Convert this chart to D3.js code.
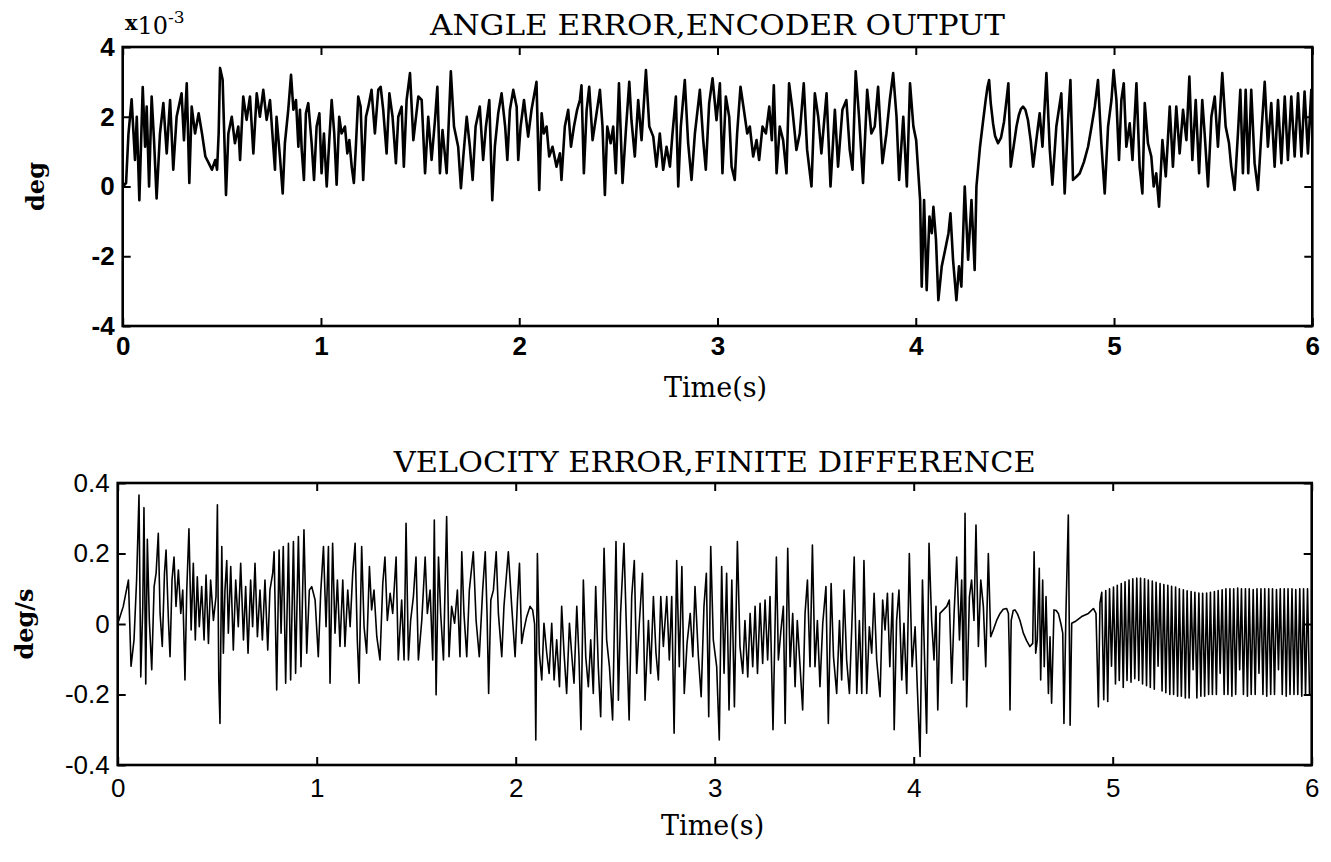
<!DOCTYPE html>
<html><head><meta charset="utf-8">
<script src="https://cdn.jsdelivr.net/npm/d3@7"></script>
<style>body{margin:0;background:#fff}svg{display:block}</style>
</head><body>
<svg id="c" width="1331" height="862"></svg>
<script>
const timeTicks = [0,1,2,3,4,5,6];
const angleTicks = [-4,-2,0,2,4];
const velocityTicks = [-0.4,-0.2,0,0.2,0.4];
const angleTitle = "ANGLE ERROR,ENCODER OUTPUT";
const velocityTitle = "VELOCITY ERROR,FINITE DIFFERENCE";
const xLabel = "Time(s)";
const angleUnit = "deg";
const velocityUnit = "deg/s";

// angle error, units of 1e-3 deg : [time s, value]
const angleSeries = [
[0,0],[0.017,0.1],[0.029,1.5],[0.045,2.5],[0.062,0.76],[0.071,2.0],[0.084,-0.39],[0.101,2.85],[0.113,1.14],[0.121,2.29],[0.133,0.0],[0.146,2.58],[0.158,1.33],[0.171,-0.34],[0.188,1.52],[0.205,2.39],[0.222,0.95],[0.239,2.48],[0.255,0.48],[0.272,2.0],[0.297,2.67],[0.309,1.33],[0.323,2.96],[0.336,0.1],[0.348,2.29],[0.365,1.52],[0.383,2.1],[0.400,1.52],[0.417,0.86],[0.434,0.67],[0.450,0.48],[0.467,0.76],[0.476,0.48],[0.484,1.52],[0.491,3.4],[0.504,3.06],[0.511,1.72],[0.521,-0.24],[0.533,1.52],[0.550,2.0],[0.566,1.24],[0.583,1.72],[0.592,0.76],[0.608,2.58],[0.625,1.91],[0.642,2.58],[0.659,0.95],[0.676,2.67],[0.692,2.0],[0.709,2.77],[0.726,1.91],[0.743,2.48],[0.756,1.43],[0.768,0.48],[0.776,2.0],[0.793,0.86],[0.807,-0.2],[0.818,1.24],[0.835,2.2],[0.849,3.2],[0.861,2.2],[0.874,2.48],[0.886,1.14],[0.894,2.2],[0.903,1.05],[0.914,0.19],[0.924,2.1],[0.936,2.39],[0.953,1.24],[0.965,0.19],[0.978,1.72],[0.992,2.1],[1.003,0.38],[1.015,1.52],[1.029,0.0],[1.042,1.33],[1.054,2.48],[1.067,1.52],[1.079,0.05],[1.092,2.0],[1.104,1.52],[1.121,1.72],[1.133,0.95],[1.143,1.33],[1.155,0.57],[1.166,0.1],[1.176,1.14],[1.188,2.58],[1.200,2.29],[1.213,0.19],[1.227,2.0],[1.239,2.29],[1.255,2.77],[1.272,1.52],[1.289,2.77],[1.301,2.86],[1.314,2.2],[1.331,0.95],[1.345,2.67],[1.361,2.0],[1.378,0.67],[1.390,2.0],[1.407,2.29],[1.418,0.57],[1.432,2.48],
[1.449,3.25],[1.466,1.33],[1.491,2.58],[1.508,2.48],[1.525,0.38],[1.541,2.0],[1.558,0.76],[1.575,1.9],[1.587,2.86],[1.600,0.38],[1.613,1.62],[1.634,0.38],[1.655,3.3],[1.671,1.72],[1.692,1.14],[1.706,-0.05],[1.718,0.86],[1.735,2.0],[1.751,1.14],[1.765,0.19],[1.780,1.72],[1.801,2.29],[1.818,0.76],[1.832,1.72],[1.849,2.48],[1.864,-0.39],[1.877,1.14],[1.894,2.1],[1.911,2.67],[1.929,1.72],[1.940,0.76],[1.953,2.2],[1.970,2.77],[1.987,2.29],[1.995,0.76],[2.007,1.72],[2.024,2.48],[2.045,1.43],[2.062,2.2],[2.087,3.0],[2.101,-0.1],[2.113,2.1],[2.124,1.52],[2.138,1.72],[2.151,0.86],[2.168,1.14],[2.188,0.57],[2.205,0.95],[2.213,0.19],[2.230,1.72],[2.247,2.2],[2.261,1.14],[2.276,1.72],[2.292,2.2],[2.306,2.48],[2.314,2.9],[2.326,0.38],[2.340,2.2],[2.353,2.86],[2.370,1.33],[2.390,2.1],[2.407,2.77],[2.420,1.72],[2.432,-0.24],[2.444,1.72],[2.461,1.24],[2.474,1.72],[2.487,0.38],[2.503,2.96],[2.521,0.1],[2.538,1.62],[2.555,3.0],[2.566,1.9],[2.583,0.86],[2.600,2.48],[2.617,1.33],[2.639,3.34],[2.656,1.72],[2.676,1.43],[2.692,0.57],[2.709,1.52],[2.726,0.48],[2.743,1.14],[2.760,0.57],[2.773,1.52],[2.790,2.58],[2.802,0.0],[2.815,1.72],[2.835,3.05],[2.852,1.24],[2.869,0.19],[2.886,1.52],[2.911,2.77],[2.928,1.33],[2.941,0.48],[2.958,2.39],[2.975,3.1],[2.995,1.9],
[3.012,2.96],[3.025,0.38],[3.042,2.58],[3.059,2.0],[3.071,0.57],[3.087,0.19],[3.099,1.52],[3.116,2.86],[3.133,2.2],[3.150,1.52],[3.163,1.72],[3.180,0.86],[3.197,1.33],[3.210,0.76],[3.227,1.72],[3.244,1.52],[3.261,2.29],[3.274,1.33],[3.284,2.9],[3.298,0.38],[3.314,1.72],[3.331,1.33],[3.348,0.38],[3.361,2.96],[3.378,2.2],[3.398,1.05],[3.415,1.52],[3.435,2.96],[3.452,1.05],[3.474,0.0],[3.491,2.67],[3.508,2.0],[3.524,0.95],[3.550,2.67],[3.570,0.0],[3.592,2.2],[3.608,0.57],[3.630,2.2],[3.650,2.48],[3.667,1.05],[3.681,0.48],[3.697,3.3],[3.714,2.0],[3.734,0.1],[3.755,2.77],[3.776,1.52],[3.793,1.72],[3.810,2.86],[3.832,0.67],[3.852,1.52],[3.869,2.48],[3.886,3.25],[3.903,2.0],[3.916,0.19],[3.937,2.0],[3.955,0.0],[3.971,2.96],[3.988,1.72],[4.002,1.33],[4.013,0.38],[4.022,-0.39],[4.030,-2.87],[4.042,-0.39],[4.055,-2.97],[4.069,-0.86],[4.081,-1.34],[4.089,-0.58],[4.102,-1.53],[4.114,-3.26],[4.131,-2.29],[4.148,-1.82],[4.165,-1.34],[4.175,-0.77],[4.188,-2.1],[4.205,-3.26],[4.218,-2.29],[4.230,-2.87],[4.247,0.0],[4.264,-2.1],[4.281,-0.39],[4.297,-2.39],[4.306,0.0],[4.324,1.14],[4.340,1.9],[4.353,2.5],[4.362,2.86],[4.370,3.05],[4.378,2.4],[4.390,1.8],[4.400,1.45],[4.415,1.24],[4.430,1.4],[4.445,1.85],[4.458,2.5],[4.467,2.96],[4.479,0.57],
[4.508,1.72],[4.520,2.05],[4.530,2.22],[4.541,2.29],[4.553,2.2],[4.566,1.9],[4.580,1.3],[4.592,0.57],[4.608,1.33],[4.625,2.1],[4.639,1.14],[4.659,3.25],[4.676,1.05],[4.689,0.05],[4.709,1.72],[4.734,2.67],[4.751,-0.2],[4.768,1.9],[4.780,3.05],[4.793,0.19],[4.810,0.28],[4.827,0.38],[4.848,0.7],[4.869,1.14],[4.886,1.7],[4.903,2.29],[4.919,3.05],[4.936,1.24],[4.953,-0.2],[4.970,1.72],[4.987,2.48],[4.998,3.34],[5.012,2.48],[5.025,0.76],[5.037,2.48],[5.049,2.96],[5.062,1.14],[5.079,1.81],[5.093,0.76],[5.113,2.96],[5.129,0.57],[5.143,-0.2],[5.155,2.39],[5.171,1.24],[5.188,0.86],[5.200,0.0],[5.213,0.38],[5.227,-0.58],[5.244,1.33],[5.261,0.29],[5.281,2.29],[5.297,0.57],[5.314,2.29],[5.331,0.95],[5.348,2.2],[5.365,1.33],[5.380,3.15],[5.395,0.76],[5.412,2.48],[5.429,0.38],[5.445,2.48],[5.457,1.52],[5.474,0.0],[5.491,2.0],[5.508,2.58],[5.524,1.14],[5.546,3.25],[5.563,1.72],[5.580,1.24],[5.591,0.57],[5.608,-0.1],[5.625,1.52],[5.637,2.77],[5.650,0.38],[5.664,2.77],[5.677,0.38],[5.692,2.77],[5.709,0.67],[5.726,-0.1],[5.743,1.52],[5.760,3.0],[5.776,1.14],[5.793,2.39],[5.810,0.57],[5.827,2.48],[5.844,0.67],[5.861,2.58],[5.877,0.76],[5.894,2.58],[5.911,0.86],[5.928,2.67],[5.945,0.86],[5.961,2.72],[5.978,0.95],[5.995,2.77],[6.0,1.6]
];

// velocity error, deg/s : [time s, value]
const velocitySeries = [
[0,0],[0.028,0.05],[0.054,0.125],[0.067,-0.12],[0.082,-0.045],[0.095,0.125],[0.107,0.366],[0.116,-0.15],[0.126,0.05],[0.132,0.33],[0.141,-0.17],[0.149,0.24],[0.159,0.01],[0.171,-0.13],[0.183,0.106],[0.193,0.144],[0.204,0.257],[0.213,0.03],[0.224,-0.064],[0.235,0.144],[0.243,0.21],[0.255,0.01],[0.263,-0.093],[0.273,0.125],[0.283,0.19],[0.293,0.05],[0.305,0.153],[0.317,0.03],[0.327,0.096],[0.338,-0.159],[0.347,0.096],[0.358,0.27],[0.369,-0.017],[0.380,0.172],[0.390,-0.045],[0.400,0.134],[0.410,-0.008],[0.422,0.106],[0.434,-0.045],[0.444,0.139],[0.456,-0.055],[0.467,0.125],[0.481,0.01],[0.494,0.078],[0.501,0.338],[0.508,-0.159],[0.514,-0.282],[0.523,0.22],[0.531,-0.083],[0.539,0.096],[0.548,0.18],[0.556,-0.026],[0.568,0.163],[0.581,-0.074],[0.593,0.125],[0.606,-0.008],[0.618,0.172],[0.632,-0.045],[0.643,0.106],[0.655,-0.083],[0.668,0.125],[0.678,-0.008],[0.690,0.172],[0.702,-0.036],[0.715,0.096],[0.727,-0.045],[0.740,0.125],[0.754,-0.074],[0.765,0.096],[0.779,0.144],[0.786,0.205],[0.799,-0.187],[0.811,0.21],[0.821,-0.026],[0.832,0.22],[0.844,-0.168],[0.858,0.229],[0.869,-0.159],[0.883,0.234],[0.894,-0.14],[0.908,0.248],[0.921,-0.121],[0.936,0.267],[0.950,-0.083],[0.963,0.096],[0.975,0.106],[0.992,0.068],[1.008,-0.093],[1.020,0.087],[1.034,0.22],[1.047,-0.008],[1.059,0.22],[1.067,-0.168],[1.080,0.229],[1.092,-0.026],[1.104,0.125],[1.117,-0.064],[1.131,0.125],[1.142,-0.064],[1.156,0.096],[1.168,-0.008],[1.181,0.144],[1.193,0.229],[1.204,-0.045],[1.213,-0.168],[1.226,0.22],[1.238,-0.008],[1.251,-0.083],[1.265,0.163],[1.276,0.04],[1.288,0.096],[1.302,-0.036],[1.318,-0.102],[1.332,0.115],[1.343,0.19],[1.355,0.01],[1.369,0.087],[1.382,0.03],[1.399,0.19],[1.410,-0.102],[1.427,0.068],[1.439,-0.102],[1.449,0.286],[1.461,-0.102],[1.472,0.01],[1.486,0.078],[1.499,0.19],[1.511,-0.102],
[1.528,0.01],[1.545,0.19],[1.556,0.03],[1.570,0.096],[1.583,-0.102],[1.591,0.295],[1.600,-0.201],[1.612,0.19],[1.623,0.03],[1.637,-0.102],[1.653,0.305],[1.665,-0.093],[1.678,0.05],[1.693,0.002],[1.707,0.096],[1.720,-0.093],[1.729,0.205],[1.740,0.03],[1.754,-0.093],[1.767,0.096],[1.787,0.205],[1.801,0.01],[1.817,-0.093],[1.834,0.096],[1.847,0.205],[1.856,0.03],[1.864,-0.197],[1.875,0.068],[1.888,0.096],[1.902,0.205],[1.913,0.03],[1.930,-0.093],[1.941,0.05],[1.963,0.205],[1.980,0.05],[1.997,-0.093],[2.009,0.068],[2.019,0.172],[2.030,-0.055],[2.040,-0.02],[2.055,0.02],[2.072,0.05],[2.085,0.04],[2.095,0.0],[2.101,-0.329],[2.109,0.2],[2.119,-0.083],[2.131,-0.159],[2.142,0.002],[2.156,-0.083],[2.168,-0.14],[2.181,0.002],[2.193,-0.159],[2.206,-0.045],[2.220,-0.178],[2.231,0.05],[2.243,-0.083],[2.256,-0.197],[2.270,0.002],[2.281,-0.083],[2.293,-0.168],[2.307,0.05],[2.318,-0.093],[2.328,-0.3],[2.340,0.125],[2.352,-0.093],[2.365,-0.178],[2.377,-0.045],[2.390,-0.197],[2.402,0.106],[2.415,-0.121],[2.427,-0.263],[2.444,0.215],[2.457,-0.045],[2.471,-0.121],[2.487,-0.272],[2.504,0.234],[2.516,-0.216],[2.527,0.03],[2.544,0.229],[2.558,-0.045],[2.570,-0.272],[2.583,0.078],[2.596,0.18],[2.608,-0.14],[2.621,0.002],[2.637,0.144],[2.650,-0.216],[2.667,0.01],[2.678,-0.14],[2.692,0.078],[2.705,-0.083],[2.717,-0.159],[2.729,0.078],[2.742,-0.064],[2.759,0.078],[2.772,-0.102],[2.784,0.078],[2.796,-0.31],[2.809,0.18],[2.822,-0.121],[2.835,0.163],[2.847,-0.197],[2.861,-0.055],[2.877,0.03],[2.890,-0.093],[2.901,0.106],[2.918,-0.093],[2.932,-0.206],[2.946,0.05],[2.958,0.144],[2.970,-0.263],[2.980,0.22],[2.993,-0.045],[3.010,-0.121],[3.023,-0.329],
[3.035,0.163],[3.047,-0.14],[3.060,0.144],[3.072,-0.244],[3.086,0.125],[3.099,-0.235],[3.114,0.234],[3.127,-0.064],[3.141,-0.14],[3.152,0.01],[3.166,-0.15],[3.178,0.03],[3.191,-0.121],[3.203,0.05],[3.215,-0.14],[3.228,0.059],[3.241,-0.112],[3.253,0.068],[3.266,-0.102],[3.278,0.078],[3.293,-0.3],[3.310,0.19],[3.320,-0.102],[3.333,-0.017],[3.345,0.05],[3.354,-0.282],[3.367,0.215],[3.379,-0.121],[3.392,0.03],[3.404,-0.178],[3.415,0.01],[3.429,-0.121],[3.442,-0.244],[3.454,0.03],[3.466,0.125],[3.479,-0.121],[3.491,0.224],[3.504,-0.121],[3.516,0.01],[3.529,-0.178],[3.543,0.002],[3.559,0.106],[3.571,-0.282],[3.585,0.115],[3.597,-0.093],[3.613,-0.197],[3.627,0.01],[3.638,-0.159],[3.650,0.096],[3.663,-0.102],[3.677,-0.197],[3.690,0.01],[3.701,0.19],[3.714,-0.197],[3.727,0.01],[3.739,-0.197],[3.750,0.18],[3.764,-0.197],[3.777,-0.008],[3.789,-0.083],[3.801,0.087],[3.814,-0.102],[3.831,-0.206],[3.844,0.068],[3.856,-0.017],[3.868,0.087],[3.880,-0.121],[3.894,0.087],[3.902,-0.3],[3.914,0.01],[3.926,0.096],[3.940,-0.159],[3.951,0.002],[3.965,-0.197],[3.978,0.2],[3.992,-0.121],[4.007,-0.008],[4.018,-0.178],[4.032,-0.376],[4.044,0.125],[4.057,-0.15],[4.065,-0.31],[4.077,0.229],[4.090,0.01],[4.102,-0.102],[4.112,0.05],[4.121,-0.244],[4.132,0.03],[4.149,0.04],[4.166,0.05],[4.179,0.068],[4.191,-0.168],[4.203,0.03],[4.216,0.19],[4.230,-0.045],[4.241,0.125],[4.250,-0.159],[4.258,0.314],[4.266,-0.235],[4.280,0.078],[4.291,0.125],[4.303,0.01],[4.313,0.281],[4.325,-0.064],[4.337,0.125],[4.350,0.05],[4.362,-0.121],[4.375,0.2],[4.387,-0.036],[4.400,-0.017],[4.418,0.012],[4.434,0.03],[4.450,0.042],[4.467,0.044],[4.476,0.03],[4.481,-0.1],[4.484,-0.244],[4.487,-0.1],[4.490,0.01],[4.500,0.038],[4.509,0.04],[4.522,0.028],[4.534,0.01],
[4.551,-0.026],[4.568,-0.048],[4.584,-0.064],[4.598,-0.055],[4.605,0.205],[4.613,-0.083],[4.621,-0.045],[4.631,0.158],[4.638,-0.159],[4.648,0.125],[4.656,-0.121],[4.665,0.078],[4.677,-0.197],[4.685,-0.036],[4.693,-0.225],[4.705,0.04],[4.716,0.038],[4.727,0.03],[4.740,0.0],[4.749,-0.026],[4.755,-0.282],[4.765,0.03],[4.777,0.309],[4.786,-0.287],[4.794,0.002],[4.811,0.007],[4.844,0.021],[4.878,0.03],[4.903,0.044],[4.916,0.03],[4.928,-0.235],[4.936,0.059],
[4.945,0.09],[4.955,-0.215],[4.965,0.095],[4.975,-0.22],[4.984,0.10],[4.994,-0.12],[5.004,0.105],[5.014,-0.17],[5.023,0.11],[5.033,-0.16],[5.043,0.115],[5.053,-0.18],[5.062,0.12],[5.072,-0.16],[5.082,0.125],[5.092,-0.165],[5.101,0.128],[5.111,-0.155],[5.121,0.13],[5.131,-0.16],[5.140,0.13],[5.150,-0.17],[5.160,0.128],[5.170,-0.175],[5.179,0.125],[5.189,-0.18],[5.199,0.122],[5.209,-0.185],[5.218,0.118],[5.228,-0.12],[5.238,0.115],[5.248,-0.19],[5.257,0.112],[5.267,-0.195],[5.277,0.11],[5.287,-0.2],[5.296,0.107],[5.306,-0.2],[5.316,0.105],[5.326,-0.205],[5.335,0.10],[5.345,-0.205],[5.355,0.097],[5.365,-0.21],[5.374,0.094],[5.384,-0.21],[5.394,0.092],[5.404,-0.13],[5.413,0.09],[5.423,-0.21],[5.433,0.088],[5.443,-0.205],[5.452,0.087],[5.462,-0.205],[5.472,0.088],[5.482,-0.2],[5.491,0.09],[5.501,-0.2],[5.511,0.092],[5.521,-0.2],[5.530,0.095],[5.540,-0.14],[5.550,0.097],[5.560,-0.2],[5.569,0.10],[5.579,-0.2],[5.589,0.10],[5.599,-0.205],[5.608,0.10],[5.618,-0.2],[5.628,0.102],[5.638,-0.13],[5.647,0.10],[5.657,-0.2],[5.667,0.10],[5.677,-0.205],[5.686,0.10],[5.696,-0.2],[5.706,0.098],[5.716,-0.2],[5.725,0.10],[5.735,-0.14],[5.745,0.10],[5.755,-0.2],[5.764,0.10],[5.774,-0.205],[5.784,0.10],[5.794,-0.2],[5.803,0.10],[5.813,-0.2],[5.823,0.098],[5.833,-0.13],[5.842,0.10],[5.852,-0.2],[5.862,0.10],[5.872,-0.205],[5.881,0.10],[5.891,-0.2],[5.901,0.10],[5.911,-0.2],[5.920,0.098],[5.930,-0.2],[5.940,0.10],[5.950,-0.205],[5.959,0.10],[5.969,-0.2],[5.979,0.10],[5.989,-0.2],[6.0,-0.2]
];

const svg = d3.select("#c");
const serif = "'DejaVu Serif', 'Liberation Serif', serif";
const sans = "'Liberation Sans', Arial, sans-serif";

const panels = [
  {id:"a", data:angleSeries, yTicks:angleTicks, yDomain:[-4,4], xr:[122.7,1312.3], yr:[326,47],
   title:angleTitle, titleY:35, titleW:575, unit:angleUnit, unitX:35, xlabY:397, xPad:11,
   weight:"bold", lw:2.6},
  {id:"b", data:velocitySeries, yTicks:velocityTicks, yDomain:[-0.4,0.4], xr:[117.7,1311.7], yr:[765,483],
   title:velocityTitle, titleY:472, titleW:642, unit:velocityUnit, unitX:24, xlabY:835, xPad:14,
   weight:"normal", lw:1.6}
];

panels.forEach(p => {
  const x = d3.scaleLinear().domain([0,6]).range(p.xr);
  const y = d3.scaleLinear().domain(p.yDomain).range(p.yr);
  const g = svg.append("g");
  const clipId = "clip-" + p.id;
  svg.append("clipPath").attr("id", clipId).append("rect")
    .attr("x", p.xr[0]).attr("y", p.yr[1]).attr("width", p.xr[1]-p.xr[0]).attr("height", p.yr[0]-p.yr[1]);

  g.append("path").datum(p.data)
    .attr("clip-path", `url(#${clipId})`)
    .attr("fill","none").attr("stroke","#000").attr("stroke-width",p.lw)
    .attr("stroke-linejoin","round")
    .attr("d", d3.line().x(d=>x(d[0])).y(d=>y(d[1])));

  const fmt = d => String(d);
  const ax = g.append("g").attr("transform",`translate(0,${p.yr[0]})`)
    .call(d3.axisBottom(x).tickValues(timeTicks).tickSizeInner(-8).tickSizeOuter(0).tickPadding(p.xPad).tickFormat(fmt));
  const at = g.append("g").attr("transform",`translate(0,${p.yr[1]})`)
    .call(d3.axisTop(x).tickValues(timeTicks).tickSizeInner(-8).tickSizeOuter(0).tickFormat(""));
  const al = g.append("g").attr("transform",`translate(${p.xr[0]},0)`)
    .call(d3.axisLeft(y).tickValues(p.yTicks).tickSizeInner(-8).tickSizeOuter(0).tickPadding(8).tickFormat(fmt));
  const ar = g.append("g").attr("transform",`translate(${p.xr[1]},0)`)
    .call(d3.axisRight(y).tickValues(p.yTicks).tickSizeInner(-8).tickSizeOuter(0).tickFormat(""));
  [ax,at,al,ar].forEach(a => {
    a.select(".domain").remove();
    a.selectAll(".tick line").attr("stroke","#000").attr("stroke-width",2);
    a.selectAll("text").attr("fill","#000").style("font-family",sans)
      .style("font-size","26px").style("font-weight",p.weight);
  });

  g.append("rect").attr("x",p.xr[0]).attr("y",p.yr[1])
    .attr("width",p.xr[1]-p.xr[0]).attr("height",p.yr[0]-p.yr[1])
    .attr("fill","none").attr("stroke","#000").attr("stroke-width",2.6);

  g.append("text").attr("x",(p.xr[0]+p.xr[1])/2).attr("y",p.titleY)
    .attr("text-anchor","middle").attr("textLength",p.titleW).attr("lengthAdjust","spacingAndGlyphs")
    .style("font-family",serif).style("font-size","27px").text(p.title);

  g.append("text").attr("x",(p.xr[0]+p.xr[1])/2 - 2).attr("y",p.xlabY)
    .attr("text-anchor","middle").style("font-family",serif).style("font-size","27px").text(xLabel);

  const cy = (p.yr[0]+p.yr[1])/2;
  g.append("text").attr("transform",`translate(${p.unitX},${cy}) rotate(-90)`)
    .attr("text-anchor","middle").attr("dominant-baseline","central")
    .style("font-family",serif).style("font-size","24px").style("font-weight","bold").text(p.unit);
});

// exponent label for the angle axis
const ex = svg.append("text").attr("x",125).attr("y",34).style("font-family",serif).attr("fill","#000");
ex.append("tspan").style("font-size","21px").style("font-weight","bold").attr("dy",-4).text("x");
ex.append("tspan").style("font-size","24px").attr("dy",4).text("10");
ex.append("tspan").style("font-size","17px").attr("dy",-11).text("-3");
</script>
</body></html>
